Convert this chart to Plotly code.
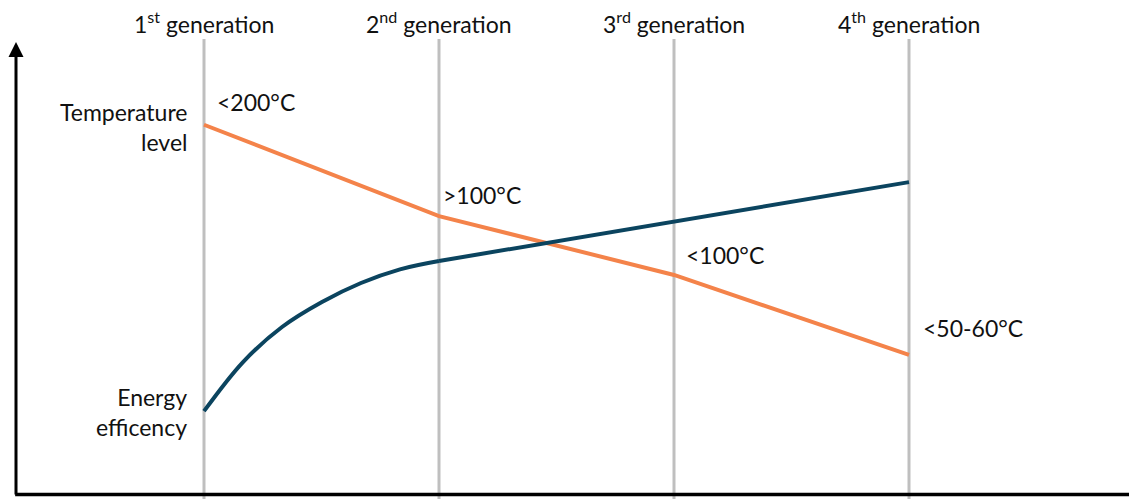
import plotly.graph_objects as go

# ---- data ----
generations = [1, 2, 3, 4]
gen_labels = ["1<sup>st</sup> generation", "2<sup>nd</sup> generation",
              "3<sup>rd</sup> generation", "4<sup>th</sup> generation"]
temp_values = [75.0, 56.7, 44.9, 28.9]
temp_labels = ["<200°C", ">100°C", "<100°C", "<50-60°C"]
eff_curve_x = [1.0, 1.166, 1.332, 1.502, 1.668, 1.834, 2.0]
eff_curve_y = [17.6, 27.45, 34.47, 39.48, 43.29, 46.03, 47.7]
eff_line_x = [2, 3, 4]
eff_line_y = [47.7, 55.6, 63.5]

ORANGE = "#F4834A"
BLUE = "#0B445F"
GREY = "#BFBFBF"
FONT = "Lato"
FS = 23

# page has an 8px body offset; figure sized to fill the rest of the window
W, H = 1129, 491
xr = [1 - 196 / 235, 1 + 933 / 235]
yr = [0, 491 / 4.99]

fig = go.Figure()

for g in generations:
    fig.add_shape(type="line", x0=g, x1=g, y0=-2, y1=92.2, xref="x", yref="y",
                  line=dict(color=GREY, width=3), layer="below")

fig.add_trace(go.Scatter(x=generations, y=temp_values, mode="lines",
                         line=dict(color=ORANGE, width=4), hoverinfo="skip"))
fig.add_trace(go.Scatter(x=eff_curve_x, y=eff_curve_y, mode="lines",
                         line=dict(color=BLUE, width=4, shape="spline", smoothing=1.0),
                         hoverinfo="skip"))
fig.add_trace(go.Scatter(x=eff_line_x, y=eff_line_y, mode="lines",
                         line=dict(color=BLUE, width=4), hoverinfo="skip"))

ann = []
ann.append(dict(x=0.2, y=91.6, ax=0.2, ay=0.6, xref="x", yref="y", axref="x", ayref="y",
                showarrow=True, arrowhead=2, arrowsize=1, arrowwidth=3, arrowcolor="black", text=""))
ann.append(dict(x=5.2, y=0.9, ax=0.19, ay=0.9, xref="x", yref="y", axref="x", ayref="y",
                showarrow=True, arrowhead=0, arrowwidth=3.5, arrowcolor="black", text=""))

for g, lab in zip(generations, gen_labels):
    ann.append(dict(x=g, y=95.4, xref="x", yref="y", text=lab, showarrow=False,
                    font=dict(family=FONT, size=FS, color="#111111"), xanchor="center", yanchor="middle"))

offs = [(0.045, 4.6), (0.007, 4.2), (0.041, 4.0), (0.049, 5.4)]
for g, v, lab, (dx, dy) in zip(generations, temp_values, temp_labels, offs):
    ann.append(dict(x=g + dx, y=v + dy, xref="x", yref="y", text=lab, showarrow=False,
                    font=dict(family=FONT, size=FS, color="#111111"), xanchor="left", yanchor="middle"))

ann.append(dict(x=0.935, y=74.6, xref="x", yref="y", text="Temperature<br>level", showarrow=False,
                align="right", xanchor="right", yanchor="middle",
                font=dict(family=FONT, size=FS, color="#111111")))
ann.append(dict(x=0.935, y=17.5, xref="x", yref="y", text="Energy<br>efficency", showarrow=False,
                align="right", xanchor="right", yanchor="middle",
                font=dict(family=FONT, size=FS, color="#111111")))

fig.update_layout(
    width=W, height=H, margin=dict(l=0, r=0, t=0, b=0),
    paper_bgcolor="white", plot_bgcolor="white", showlegend=False,
    xaxis=dict(range=xr, visible=False, fixedrange=True),
    yaxis=dict(range=yr, visible=False, fixedrange=True),
    annotations=ann,
)

fig.write_html("out.html")
